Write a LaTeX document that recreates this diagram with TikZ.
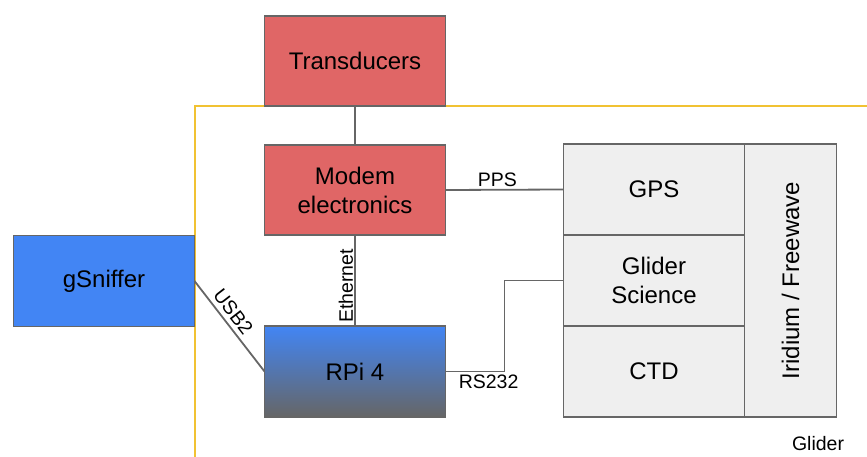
\documentclass[tikz,border=0pt]{standalone}
\usepackage{fontspec}
\setmainfont{Liberation Sans}
\usetikzlibrary{positioning, calc}
\definecolor{modemred}{HTML}{E06666}
\definecolor{snifferblue}{HTML}{4285F4}
\definecolor{rpigray}{HTML}{666666}
\definecolor{edgegray}{HTML}{666666}
\definecolor{panelgray}{HTML}{EFEFEF}
\definecolor{gliderline}{HTML}{F1C232}

\begin{document}
\begin{tikzpicture}[
    x=1pt, y=-1pt,
    % Styles
    redbox/.style={rectangle, draw=edgegray, line width=1.8pt, outer sep=0pt, fill=modemred, minimum width=181pt, minimum height=90pt, align=center, font=\fontsize{24}{29}\selectfont},
    bluebox/.style={rectangle, draw=edgegray, line width=1.8pt, outer sep=0pt, fill=snifferblue, minimum width=181pt, minimum height=91pt, align=center, font=\fontsize{24}{29}\selectfont},
    rpibox/.style={rectangle, draw=edgegray, line width=1.8pt, outer sep=0pt, top color=snifferblue, bottom color=rpigray, minimum width=181pt, minimum height=91pt, align=center, font=\fontsize{24}{29}\selectfont},
    panelbox/.style={rectangle, draw=edgegray, line width=1.8pt, outer sep=0pt, fill=panelgray, minimum width=181pt, minimum height=91pt, align=center, font=\fontsize{24}{29}\selectfont},
    linklabel/.style={font=\fontsize{19.5}{23}\selectfont, inner sep=2pt},
    link/.style={draw=edgegray, line width=1.8pt}
]
\useasboundingbox (0,0) rectangle (867,457);

% ==================== GLIDER HULL ====================
\coordinate (hull_bottom) at (195, 457);
\coordinate (hull_corner) at (195, 106);
\coordinate (hull_right) at (867, 106);
\draw[gliderline, line width=1.8pt] (hull_bottom) -- (hull_corner) -- (hull_right);
\node[linklabel] (glider_lbl) at (818, 444) {Glider};

% ==================== ACOUSTIC MODEM ====================
\node[redbox] (transducers) at (355, 61) {Transducers};
\node[redbox] (modem) at (355, 190) {Modem\\electronics};

% ==================== COMPUTERS ====================
\node[bluebox] (sniffer) at (104, 281) {gSniffer};
\node[rpibox] (rpi) at (355, 371.5) {RPi 4};

% ==================== GLIDER SYSTEMS ====================
\node[panelbox] (gps) at (654, 189.5) {GPS};
\node[panelbox, below=0pt of gps] (science) {Glider\\Science};
\node[panelbox, below=0pt of science] (ctd) {CTD};
\node[panelbox, minimum width=92pt, minimum height=273pt, anchor=north west] (iridium) at (gps.north east) {};
\node[rotate=90, font=\fontsize{24}{29}\selectfont] (iridium_lbl) at (iridium.center) {Iridium / Freewave};

% ==================== CONNECTIONS ====================
\draw[link] (transducers.south) -- (modem.north);
\draw[link] (modem.east) -- node[linklabel, above, pos=0.44] {PPS} (gps.west);
\draw[link] (rpi.north) -- node[linklabel, rotate=90, anchor=south, inner sep=1pt, pos=0.44] {Ethernet} (modem.south);
\draw[link] (sniffer.east) -- node[linklabel, sloped, above, inner sep=4pt, pos=0.42] {USB2} (rpi.west);
\draw[link] (rpi.east) -- node[linklabel, below, pos=0.73] {RS232} ++(59,0) |- (science.west);

\end{tikzpicture}
\end{document}
